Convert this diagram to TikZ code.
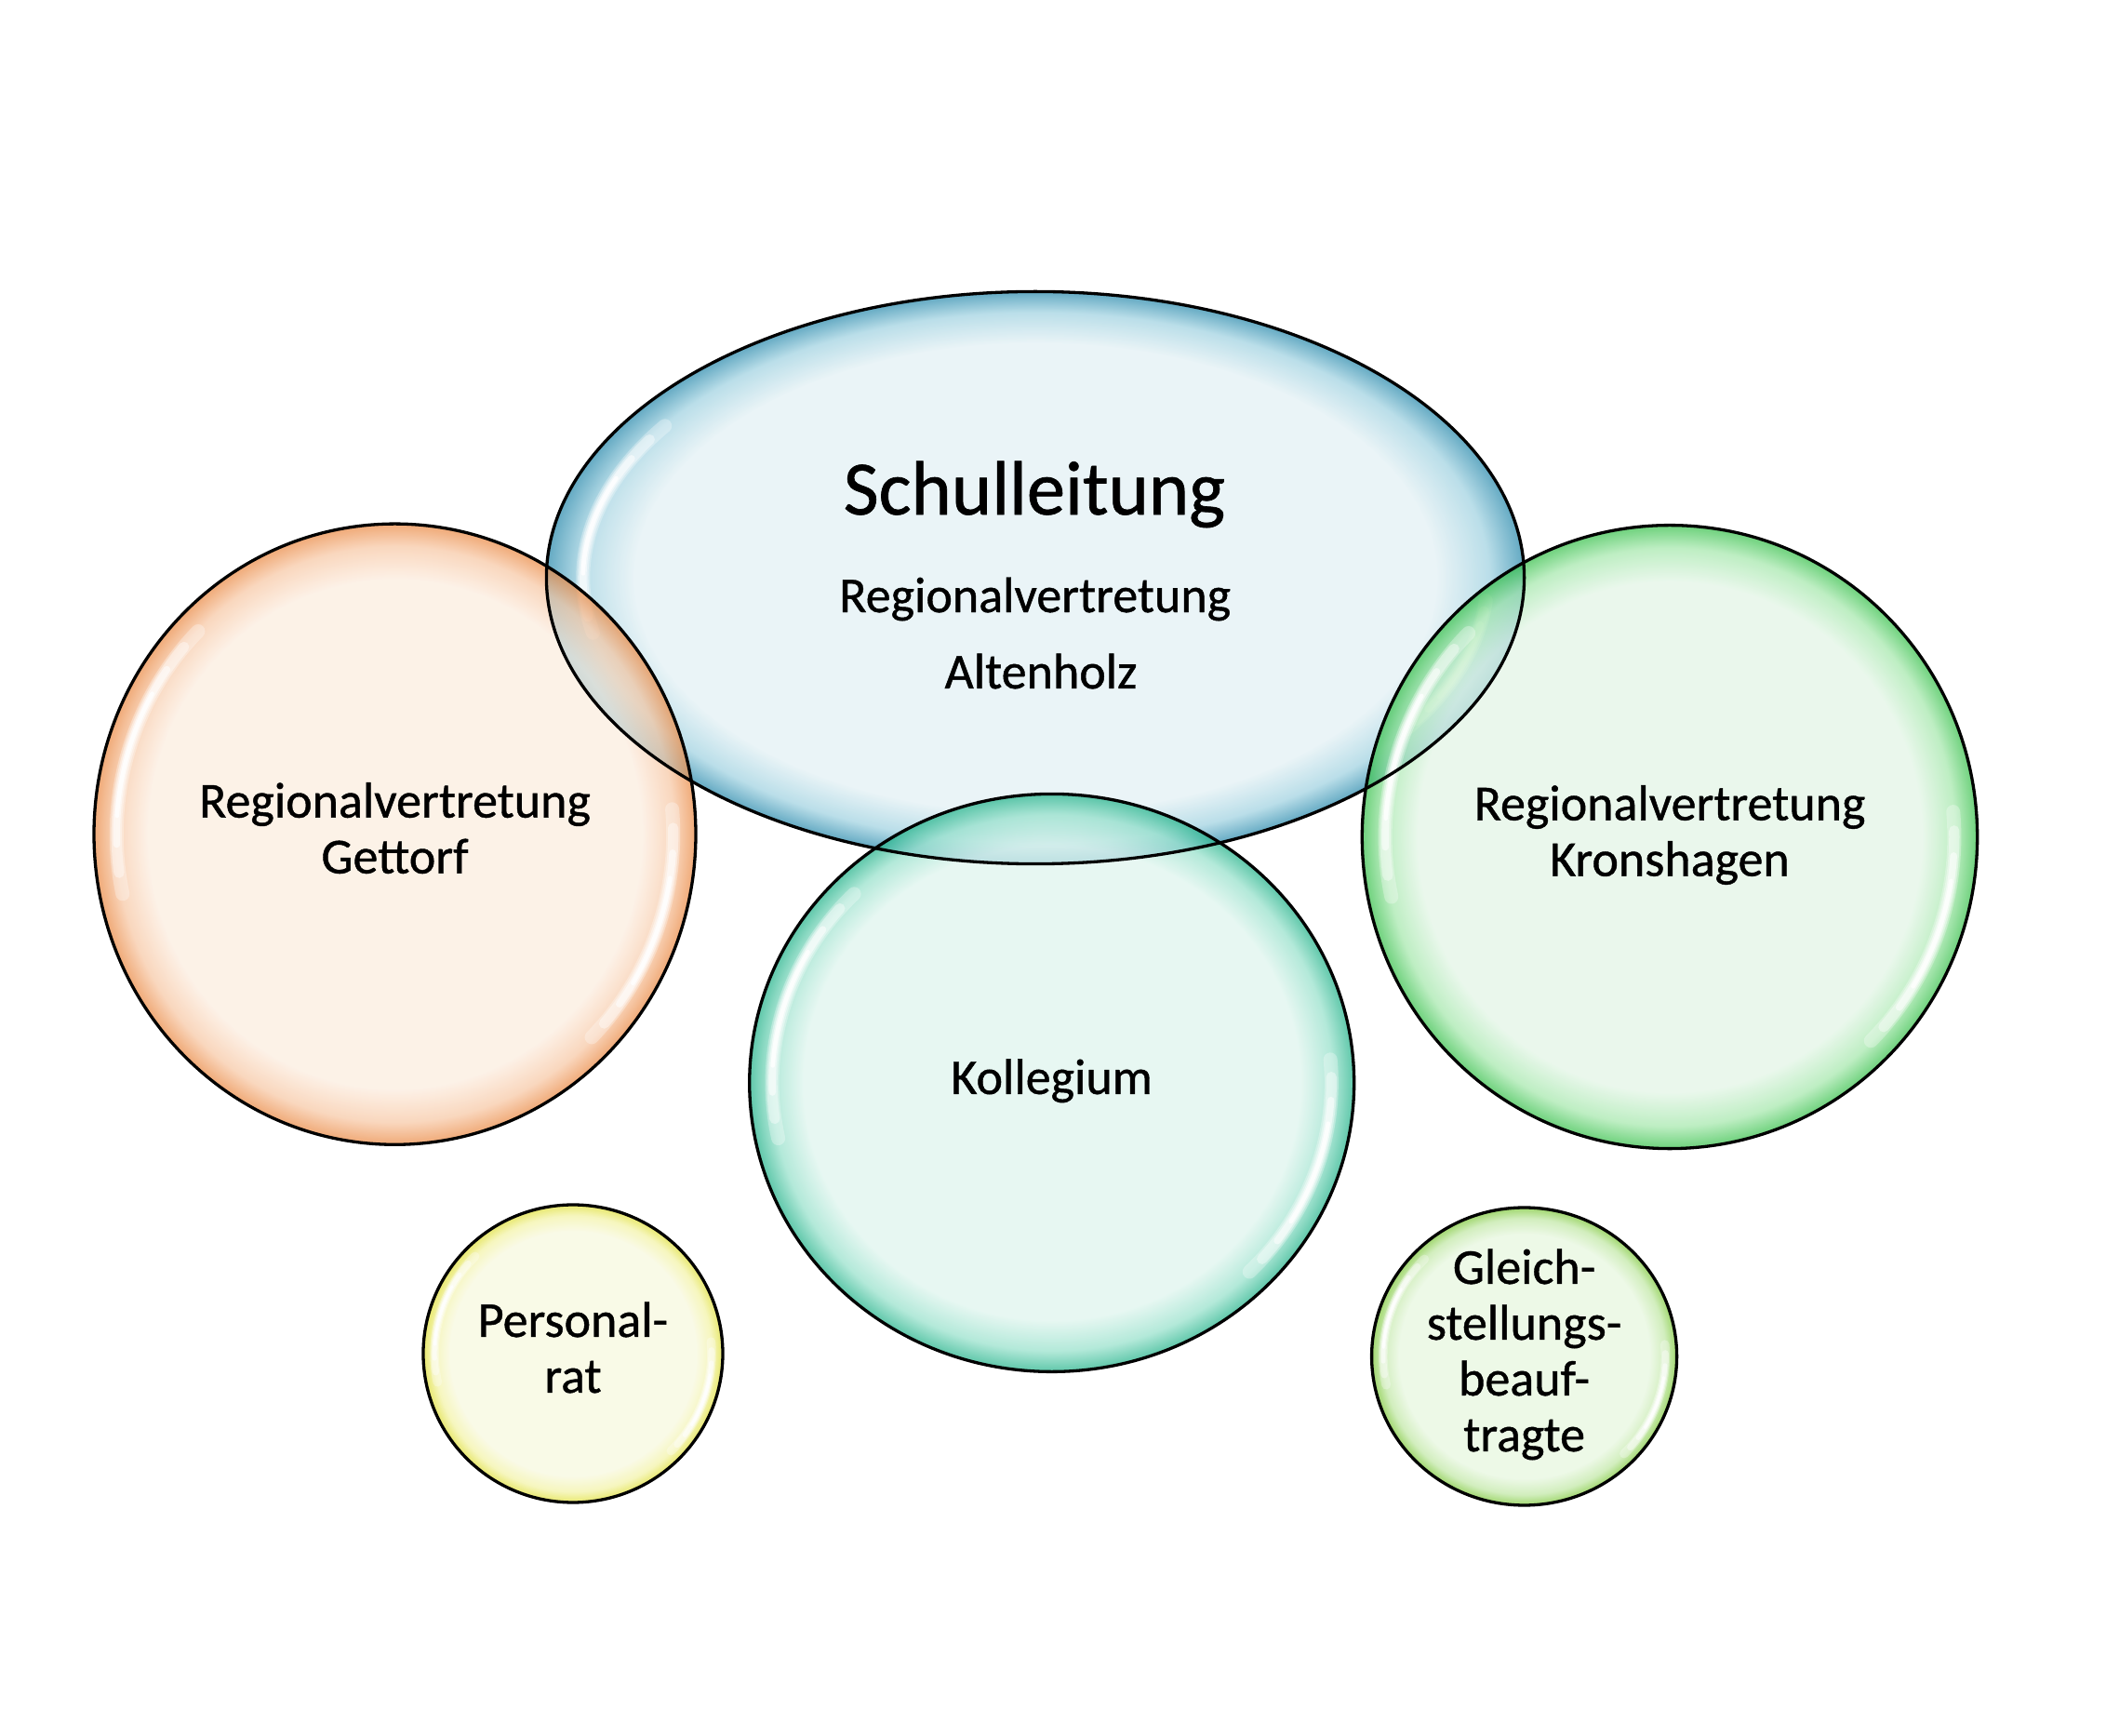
\documentclass[tikz,border=0pt]{standalone}
\usepackage{fontspec}
\setmainfont{Carlito}[FakeBold=0.8]
\usetikzlibrary{shapes.geometric,calc}

% colours: C = centre, M = middle of rim gradient, R = rim
\definecolor{bC}{RGB}{226,240,244}\definecolor{bM}{RGB}{160,210,225}\definecolor{bR}{RGB}{40,137,172}
\definecolor{oC}{RGB}{252,237,223}\definecolor{oM}{RGB}{248,200,165}\definecolor{oR}{RGB}{234,137,67}
\definecolor{gC}{RGB}{226,245,229}\definecolor{gM}{RGB}{165,232,172}\definecolor{gR}{RGB}{54,192,74}
\definecolor{tC}{RGB}{223,245,238}\definecolor{tM}{RGB}{150,225,203}\definecolor{tR}{RGB}{33,178,137}
\definecolor{yC}{RGB}{248,249,223}\definecolor{yM}{RGB}{243,243,165}\definecolor{yR}{RGB}{223,223,53}
\definecolor{lC}{RGB}{231,247,223}\definecolor{lM}{RGB}{193,232,165}\definecolor{lR}{RGB}{123,199,53}

% the path edge sits at 25bp of the shading
\pgfdeclareradialshading{shB}{\pgfpoint{0bp}{0bp}}{color(0bp)=(bC); color(20.5bp)=(bC); color(23.2bp)=(bM); color(25bp)=(bR); color(50bp)=(bR)}
\pgfdeclareradialshading{shO}{\pgfpoint{0bp}{0bp}}{color(0bp)=(oC); color(20.5bp)=(oC); color(23.2bp)=(oM); color(25bp)=(oR); color(50bp)=(oR)}
\pgfdeclareradialshading{shG}{\pgfpoint{0bp}{0bp}}{color(0bp)=(gC); color(20.5bp)=(gC); color(23.2bp)=(gM); color(25bp)=(gR); color(50bp)=(gR)}
\pgfdeclareradialshading{shT}{\pgfpoint{0bp}{0bp}}{color(0bp)=(tC); color(20.5bp)=(tC); color(23.2bp)=(tM); color(25bp)=(tR); color(50bp)=(tR)}
\pgfdeclareradialshading{shY}{\pgfpoint{0bp}{0bp}}{color(0bp)=(yC); color(20.5bp)=(yC); color(23.2bp)=(yM); color(25bp)=(yR); color(50bp)=(yR)}
\pgfdeclareradialshading{shL}{\pgfpoint{0bp}{0bp}}{color(0bp)=(lC); color(20.5bp)=(lC); color(23.2bp)=(lM); color(25bp)=(lR); color(50bp)=(lR)}

\tikzset{
  bub/.style={ellipse, inner sep=0pt, outer sep=0pt, fill opacity=0.72},
  ring/.style={draw=black, line width=1.1pt},
  lbl/.style={font=\fontsize{18}{20}\selectfont, align=center, text=black, inner sep=0pt},
  big/.style={font=\fontsize{27.5}{30}\selectfont, text=black, inner sep=0pt},
}

% glossy streak: node, rx, ry, start angle, end angle, width
\newcommand\streak[6]{%
  \pgfmathsetmacro\sA{#4}\pgfmathsetmacro\sB{#5}%
  \pgfmathsetmacro\sM{(\sA+\sB)/2}\pgfmathsetmacro\sD{(\sB-\sA)/2}%
  \pgfmathsetmacro\sRx{0.925*#2}\pgfmathsetmacro\sRy{0.925*#3}%
  \foreach \ff/\op/\lw in {1/0.3/1, 0.85/0.4/0.75, 0.65/0.55/0.5, 0.45/0.8/0.3}{%
    \pgfmathsetmacro\tA{\sM-\ff*\sD}\pgfmathsetmacro\tB{\sM+\ff*\sD}%
    \draw[draw=white, line cap=round, opacity=\op, line width=\lw*#6]
      ($(#1.center)+(\tA:\sRx pt and \sRy pt)$)
      arc[start angle=\tA, end angle=\tB, x radius=\sRx pt, y radius=\sRy pt];
  }}

\begin{document}
\begin{tikzpicture}[x=1pt,y=1pt]
\useasboundingbox (0,0) rectangle (754.67,621.67);
\fill[white] (0,0) rectangle (754.67,621.67);

% fills
\node[bub, shade, shading=shB, minimum width=350.4pt, minimum height=205.07pt] (sl) at (371.0,414.67) {};
\streak{sl}{175.2}{102.53}{145}{192}{5pt}
\streak{sl}{175.2}{102.53}{-35}{-5}{5pt}

\node[bub, shade, shading=shO, minimum width=215.67pt, minimum height=222.4pt] (get) at (141.5,322.77) {};
\streak{get}{107.83}{111.2}{135}{192}{5pt}
\streak{get}{107.83}{111.2}{-45}{5}{5pt}

\node[bub, shade, shading=shG, minimum width=220.47pt, minimum height=223.33pt] (kro) at (598.33,321.8) {};
\streak{kro}{110.23}{111.67}{135}{192}{5pt}
\streak{kro}{110.23}{111.67}{-45}{5}{5pt}

\node[bub, shade, shading=shT, minimum width=216.67pt, minimum height=207pt] (kol) at (376.9,233.7) {};
\streak{kol}{108.33}{103.5}{135}{192}{5pt}
\streak{kol}{108.33}{103.5}{-45}{5}{5pt}

\node[bub, shade, shading=shY, minimum width=107.33pt, minimum height=106.67pt] (per) at (205.33,136.67) {};
\streak{per}{53.67}{53.33}{135}{192}{3.2pt}
\streak{per}{53.67}{53.33}{-45}{5}{3.2pt}

\node[bub, shade, shading=shL, minimum width=109.33pt, minimum height=106.67pt] (gle) at (546.2,135.67) {};
\streak{gle}{54.67}{53.33}{135}{192}{3.2pt}
\streak{gle}{54.67}{53.33}{-45}{5}{3.2pt}

% outlines on top
\draw[ring] (sl.center) ellipse [x radius=175.2, y radius=102.53];
\draw[ring] (get.center) ellipse [x radius=107.83, y radius=111.2];
\draw[ring] (kro.center) ellipse [x radius=110.23, y radius=111.67];
\draw[ring] (kol.center) ellipse [x radius=108.33, y radius=103.5];
\draw[ring] (per.center) ellipse [x radius=53.67, y radius=53.33];
\draw[ring] (gle.center) ellipse [x radius=54.67, y radius=53.33];

% texts
\node[big, anchor=base] (slt) at (370.67,437.33) {Schulleitung};
\node[lbl, anchor=base] (slr) at (370.9,402.33) {Regionalvertretung};
\node[lbl, anchor=base] (sla) at (373.0,375.0) {Altenholz};
\node[lbl] (gett) at (get.center) {\strut Regionalvertretung\\\strut Gettorf};
\node[lbl] (krot) at (kro.center) {\strut Regionalvertretung\\\strut Kronshagen};
\node[lbl] (kolt) at (kol.center) {\strut Kollegium};
\node[lbl] (pert) at (per.center) {\strut Personal-\\\strut rat};
\node[lbl] (glet) at (gle.center) {\strut Gleich-\\\strut stellungs-\\\strut beauf-\\\strut tragte};
\end{tikzpicture}
\end{document}
